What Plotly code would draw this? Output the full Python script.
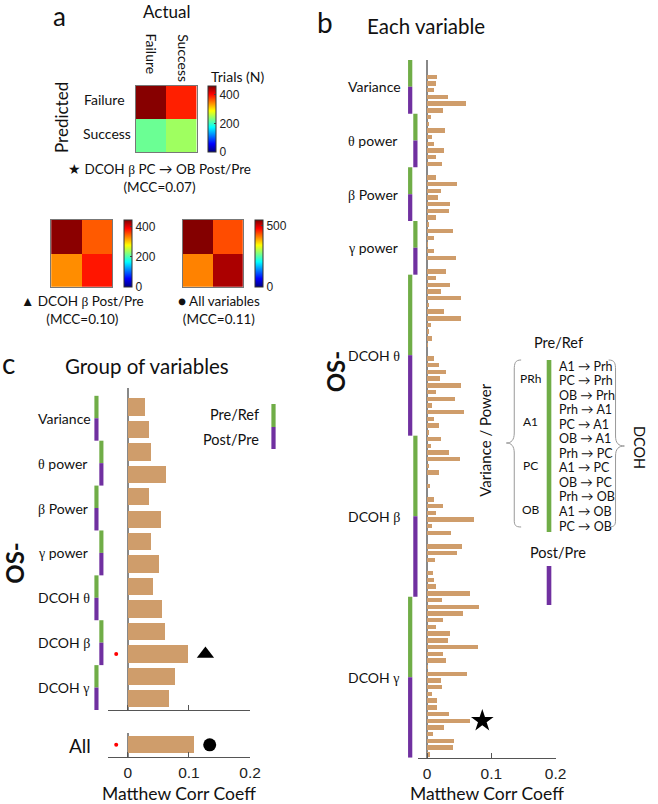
import plotly.graph_objects as go

W, H = 658, 804
def px(x): return x / W
def py(y): return 1 - y / H

# ---------------- data ----------------
cm_labels = ["Failure", "Success"]
cm_star = [[460, 391], [222, 246]]
cm_triangle = [[440, 350], [328, 380]]
cm_all = [[545, 438], [409, 524]]
cm_max = [463, 445, 547]
cm_ticks = [[0, 200, 400], [0, 200, 400], [0, 500]]
cm_captions = ["★ DCOH β PC → OB Post/Pre", "▲ DCOH β Post/Pre", "● All variables"]
cm_mcc = ["(MCC=0.07)", "(MCC=0.10)", "(MCC=0.11)"]

group_names = ["Variance", "θ power", "β Power", "γ power", "DCOH θ", "DCOH β", "DCOH γ"]

# panel c: group of variables
group_pre = [0.028, 0.0385, 0.035, 0.0375, 0.041, 0.061, 0.078]
group_post = [0.035, 0.063, 0.055, 0.051, 0.056, 0.099, 0.068]
all_mcc = [0.109]
all_label = ["All"]

# panel b: each variable (Pre/Ref rows then Post/Pre rows per group)
var_pre = [0, 0, 0.016, 0.014]
var_post = [0.010, 0.032, 0.061, 0.025]
theta_pre = [0.006, 0.002, 0.028, 0.007]
theta_post = [0.010, 0.027, 0.014, 0.023]
beta_pre = [0, 0.014, 0.046, 0.021]
beta_post = [0.017, 0.035, 0.034, 0.014]
gamma_pre = [0.002, 0.040, 0.011, 0.001]
gamma_post = [0.011, 0.045, 0, 0.030]
dcoh_theta_pre = [0.014, 0.035, 0.021, 0.052, 0.003, 0.026, 0.053, 0.006, 0.0015, 0.007, 0.001, 0]
dcoh_theta_post = [0.011, 0.019, 0.030, 0.020, 0.053, 0.014, 0.044, 0.008, 0.058, 0.010, 0.018, 0.0015]
dcoh_beta_pre = [0.022, 0.006, 0.034, 0.051, 0.002, 0.018, 0, 0.004, 0, 0.010, 0.025, 0.013]
dcoh_beta_post = [0.073, 0.007, 0.037, 0, 0.055, 0.046, 0.012, 0, 0.009, 0.011, 0.014, 0.066]
dcoh_gamma_pre = [0.023, 0.080, 0.056, 0.025, 0.014, 0.036, 0.033, 0.079, 0.025, 0.030, 0.001, 0.062]
dcoh_gamma_post = [0.022, 0.023, 0.008, 0.015, 0.015, 0.034, 0.066, 0.027, 0.009, 0.042, 0.041, 0.005]

regions = ["PRh", "A1", "PC", "OB"]
pairs = ["A1 → Prh", "PC → Prh", "OB → Prh", "Prh → A1", "PC → A1", "OB → A1",
         "Prh → PC", "A1 → PC", "OB → PC", "Prh → OB", "A1 → OB", "PC → OB"]
xticks = [0, 0.1, 0.2]
xtick_text = ["0", "0.1", "0.2"]

star_group, star_post_index = 6, 6      # highlighted variable in panel b
tri_row = 11                            # DCOH β Post/Pre in panel c
sig_rows_c = [11]
sig_rows_all = [0]

# ---------------- styles ----------------
BAR = "rgb(207,157,107)"
GREEN = "#70AD47"
PURPLE = "#7030A0"
TXT = "#111"
SANS = "Lato"
ARIAL = "Liberation Sans"
SERIF = "Liberation Serif"

jet = [[0, "rgb(0,0,128)"], [0.125, "rgb(0,0,255)"], [0.375, "rgb(0,255,255)"],
       [0.625, "rgb(255,255,0)"], [0.875, "rgb(255,0,0)"], [1, "rgb(128,0,0)"]]

def greekify(s):
    out = ""
    for ch in s:
        if ch in "θβγ":
            out += f"<span style='font-family:{SERIF}'>{ch}</span>"
        else:
            out += ch
    return out

fig = go.Figure()
annotations = []
shapes = []

def ann(text, x, y, size, family=SANS, xanchor="center", yanchor="middle", angle=0, color=TXT, bold=False):
    if bold:
        text = f"<b>{text}</b>"
    annotations.append(dict(text=text, x=px(x), y=py(y), xref="paper", yref="paper",
                            xanchor=xanchor, yanchor=yanchor, textangle=angle, showarrow=False,
                            font=dict(family=family, size=size, color=color)))

# ---------------- panel a: confusion matrices ----------------
hm_boxes = [(138, 200, 86, 152), (52, 114, 220, 286.7), (186, 247, 220, 286.7)]
cms = [cm_star, cm_triangle, cm_all]
for i, (cm, box) in enumerate(zip(cms, hm_boxes)):
    n = "" if i == 0 else str(i + 1)
    x0, x1, y0, y1 = box
    fig.add_trace(go.Heatmap(z=cm, x=[0, 1], y=[0, 1], zmin=0, zmax=cm_max[i], colorscale=jet,
                             xaxis="x" + n, yaxis="y" + n, hoverinfo="skip",
                             colorbar=dict(x=px(x1 + 12), xanchor="left", xpad=0, ypad=0,
                                           y=py((y0 + y1) / 2), yanchor="middle",
                                           len=y1 - y0, lenmode="pixels", thickness=8,
                                           thicknessmode="pixels", outlinewidth=1, outlinecolor="#333",
                                           tickvals=cm_ticks[i], ticks="inside", ticklen=2,
                                           tickfont=dict(family=ARIAL, size=12, color="#222"))))
    fig.layout["xaxis" + n] = dict(domain=[px(x0), px(x1)], range=[-0.5, 1.5], anchor="y" + n,
                                   showticklabels=False, ticks="", showgrid=False, zeroline=False,
                                   showline=True, mirror=True, linecolor="#777", linewidth=1)
    fig.layout["yaxis" + n] = dict(domain=[py(y1), py(y0)], range=[1.5, -0.5], anchor="x" + n,
                                   showticklabels=False, ticks="", showgrid=False, zeroline=False,
                                   showline=True, mirror=True, linecolor="#777", linewidth=1)

ann("a", 61, 16, 26)
ann("Actual", 169, 11, 17)
ann(cm_labels[0], 154.5, 32, 14, angle=90, yanchor="top")
ann(cm_labels[1], 187, 32, 14, angle=90, yanchor="top")
ann(cm_labels[0], 83, 100, 14, xanchor="left")
ann(cm_labels[1], 82, 133, 14, xanchor="left")
ann("Predicted", 62, 117, 17, angle=-90)
ann("Trials (N)", 242, 76, 14)
ann(greekify(cm_captions[0]) + "<br>" + cm_mcc[0], 162.5, 178.5, 13.5)
ann(greekify(cm_captions[1]) + "<br>" + cm_mcc[1], 83.5, 310, 13.5)
ann(cm_captions[2] + "<br>" + cm_mcc[2], 223, 310, 13.5)

# ---------------- panel b: each variable ----------------
b_groups = [(var_pre, var_post), (theta_pre, theta_post), (beta_pre, beta_post), (gamma_pre, gamma_post),
            (dcoh_theta_pre, dcoh_theta_post), (dcoh_beta_pre, dcoh_beta_post),
            (dcoh_gamma_pre, dcoh_gamma_post)]
b_vals = []
b_group_rows = []
for pre, post in b_groups:
    start = len(b_vals)
    b_vals += pre + post
    b_group_rows.append((start, len(pre), len(post)))
b_rows = list(range(len(b_vals)))

fig.add_trace(go.Bar(x=b_vals, y=b_rows, orientation="h", width=0.66, marker=dict(color=BAR, line=dict(width=0)),
                     xaxis="x4", yaxis="y4", hoverinfo="skip"))
srow = b_group_rows[star_group][0] + b_group_rows[star_group][1] + star_post_index
fig.add_trace(go.Scatter(x=[b_vals[srow] + 0.02], y=[srow], mode="markers", xaxis="x4", yaxis="y4",
                         marker=dict(symbol="star", size=17, color="black"), hoverinfo="skip"))

B_TOP, B_BOT = 60, 757.7
fig.layout.xaxis4 = dict(domain=[px(425), px(565)], range=[-0.01423, 0.2], anchor="y4",
                         showline=True, linecolor="#555", linewidth=1.2, ticks="inside", ticklen=5,
                         tickcolor="#555", tickvals=xticks, ticktext=xtick_text, showgrid=False,
                         zeroline=True, zerolinecolor="#888", zerolinewidth=1.5,
                         tickfont=dict(family=ARIAL, size=15.5, color="#222"), ticklabelstandoff=2)
fig.layout.yaxis4 = dict(domain=[py(B_BOT), py(B_TOP)], range=[len(b_vals) - 0.5, -0.5], anchor="x4",
                         visible=False)

for gi, (start, npre, npost) in enumerate(b_group_rows):
    xx = 415 if gi % 2 == 0 else 420.3
    shapes.append(dict(type="rect", xref="paper", yref="y4", x0=px(xx), x1=px(xx + 4.3),
                       y0=start - 0.5, y1=start + npre - 0.5, fillcolor=GREEN, line=dict(width=0)))
    shapes.append(dict(type="rect", xref="paper", yref="y4", x0=px(xx), x1=px(xx + 4.3),
                       y0=start + npre - 0.5, y1=start + npre + npost - 0.5, fillcolor=PURPLE, line=dict(width=0)))
    annotations.append(dict(text=greekify(group_names[gi]), x=px(352), xref="paper", xanchor="left",
                            y=start + (npre + npost) / 2 - 0.5, yref="y4", yanchor="middle", showarrow=False,
                            font=dict(family=SANS, size=14, color=TXT)))

ann("b", 331, 22, 28)
ann("Each variable", 433, 26, 20.5)
ann("Matthew Corr Coeff", 495, 793, 17.5)
ann("OS-", 341, 371, 24, family=SANS, angle=-90, bold=True)

# legend of panel b
ann("Pre/Ref", 568, 342, 14.5)
ann("Variance / Power", 493, 440, 15, angle=-90)
for k, r in enumerate(regions):
    ann(r, 540, 378 + 43.7 * k, 12)
for k, p in enumerate(pairs):
    ann(p, 566, 366 + 14.55 * k, 12.5, xanchor="left")
ann("DCOH", 651, 447, 14.5, angle=90)
ann("Post/Pre", 567, 552, 14.5)
shapes.append(dict(type="rect", xref="paper", yref="paper", x0=px(556), x1=px(560.7), y0=py(532), y1=py(360),
                   fillcolor=GREEN, line=dict(width=0)))
shapes.append(dict(type="rect", xref="paper", yref="paper", x0=px(556), x1=px(560.7), y0=py(605), y1=py(566),
                   fillcolor=PURPLE, line=dict(width=0)))

def path(cmds):
    out = []
    for c in cmds:
        if isinstance(c, str):
            out.append(c)
        else:
            out.append(f"{px(c[0]):.5f},{py(c[1]):.5f}")
    return " ".join(out)

lb = path(["M", (530, 360), "C", (524, 360), (523, 363), (523, 370), "L", (523, 433), "C", (523, 440), (520, 443), (515, 443),
           "C", (520, 443), (523, 446), (523, 453), "L", (523, 520), "C", (523, 525), (524, 527), (530, 527)])
rb = path(["M", (619, 360), "C", (625, 360), (626, 363), (626, 370), "L", (626, 436), "C", (626, 443), (629, 446), (635, 446),
           "C", (629, 446), (626, 449), (626, 456), "L", (626, 520), "C", (626, 525), (625, 527), (619, 527)])
for pth in (lb, rb):
    shapes.append(dict(type="path", path=pth, xref="paper", yref="paper", line=dict(color="#999", width=1)))

# ---------------- panel c: group of variables ----------------
c_vals = []
for a, b in zip(group_pre, group_post):
    c_vals += [a, b]
c_rows = list(range(len(c_vals)))
fig.add_trace(go.Bar(x=c_vals, y=c_rows, orientation="h", width=0.77, marker=dict(color=BAR, line=dict(width=0)),
                     xaxis="x5", yaxis="y5", hoverinfo="skip"))
fig.add_trace(go.Scatter(x=[c_vals[tri_row] + 0.028], y=[tri_row], mode="markers", xaxis="x5", yaxis="y5",
                         marker=dict(symbol="triangle-up", size=15, color="black"), hoverinfo="skip"))
fig.add_trace(go.Scatter(x=[-0.019] * len(sig_rows_c), y=sig_rows_c, mode="markers", xaxis="x5", yaxis="y5",
                         marker=dict(symbol="circle", size=4, color="red"), hoverinfo="skip"))

fig.add_trace(go.Bar(x=all_mcc, y=[0], orientation="h", width=0.72, marker=dict(color=BAR, line=dict(width=0)),
                     xaxis="x6", yaxis="y6", hoverinfo="skip"))
fig.add_trace(go.Scatter(x=[all_mcc[0] + 0.025], y=[0], mode="markers", xaxis="x6", yaxis="y6",
                         marker=dict(symbol="circle", size=13, color="black"), hoverinfo="skip"))
fig.add_trace(go.Scatter(x=[-0.019] * len(sig_rows_all), y=sig_rows_all, mode="markers", xaxis="x6", yaxis="y6",
                         marker=dict(symbol="circle", size=4, color="red"), hoverinfo="skip"))

C_TOP, C_BOT = 388, 710
crange = [-0.03218, 0.2]
fig.layout.xaxis5 = dict(domain=[px(110), px(254.3)], range=crange, anchor="y5",
                         showline=True, linecolor="#555", linewidth=1.2, ticks="inside", ticklen=5,
                         tickcolor="#555", tickvals=xticks, showticklabels=False, showgrid=False,
                         zeroline=True, zerolinecolor="#888", zerolinewidth=1.5)
fig.layout.yaxis5 = dict(domain=[py(C_BOT), py(C_TOP)], range=[len(c_vals) - 0.5, -0.848], anchor="x5", visible=False)
fig.layout.xaxis6 = dict(domain=[px(110), px(254.3)], range=crange, anchor="y6",
                         showline=True, linecolor="#555", linewidth=1.2, ticks="inside", ticklen=5,
                         tickcolor="#555", tickvals=xticks, ticktext=xtick_text, showgrid=False,
                         zeroline=True, zerolinecolor="#888", zerolinewidth=1.5,
                         tickfont=dict(family=ARIAL, size=15.5, color="#222"), ticklabelstandoff=2)
fig.layout.yaxis6 = dict(domain=[py(756.7), py(733)], range=[0.5, -0.5], anchor="x6", visible=False)

for gi in range(len(group_names)):
    xx = 96 if gi % 2 == 0 else 101
    r0 = 2 * gi
    shapes.append(dict(type="rect", xref="paper", yref="y5", x0=px(xx), x1=px(xx + 4.2),
                       y0=r0 - 0.5, y1=r0 + 0.5, fillcolor=GREEN, line=dict(width=0)))
    shapes.append(dict(type="rect", xref="paper", yref="y5", x0=px(xx), x1=px(xx + 4.2),
                       y0=r0 + 0.5, y1=r0 + 1.5, fillcolor=PURPLE, line=dict(width=0)))
    annotations.append(dict(text=greekify(group_names[gi]), x=px(37), xref="paper", xanchor="left",
                            y=r0 + 0.5, yref="y5", yanchor="middle", showarrow=False,
                            font=dict(family=SANS, size=14, color=TXT)))

ann(all_label[0], 95, 745, 19, xanchor="right")
ann("c", 9, 363, 28)
ann("Group of variables", 150, 366, 20.5)
ann("Matthew Corr Coeff", 182, 793, 17.5)
ann("OS-", 14, 563, 24, angle=-90, bold=True)
ann("Pre/Ref", 265, 415, 14.5, xanchor="right")
ann("Post/Pre", 265, 439, 14.5, xanchor="right")
shapes.append(dict(type="rect", xref="paper", yref="paper", x0=px(276), x1=px(280.3), y0=py(427), y1=py(404),
                   fillcolor=GREEN, line=dict(width=0)))
shapes.append(dict(type="rect", xref="paper", yref="paper", x0=px(276), x1=px(280.3), y0=py(449), y1=py(427),
                   fillcolor=PURPLE, line=dict(width=0)))

fig.update_layout(width=W, height=H, margin=dict(l=0, r=0, t=0, b=0), paper_bgcolor="white",
                  plot_bgcolor="rgba(0,0,0,0)", showlegend=False, annotations=annotations, shapes=shapes,
                  bargap=0)
fig.write_html("out.html", config={"displayModeBar": False},
               post_script="document.body.style.margin='0';document.body.style.padding='0';")
